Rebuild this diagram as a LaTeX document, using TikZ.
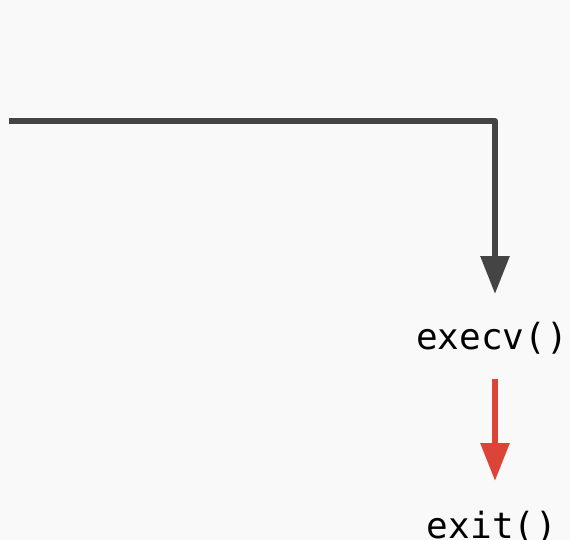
\documentclass[tikz,border=0pt]{standalone}
\usepackage{fontspec}
\setmonofont{DejaVu Sans Mono}
\usetikzlibrary{arrows.meta}
\definecolor{bgcol}{HTML}{F9F9F9}
\definecolor{flowgray}{HTML}{444444}
\definecolor{flowred}{HTML}{DB4437}
\begin{document}
\begin{tikzpicture}[x=1pt,y=-1pt,
  call/.style={inner sep=0pt,anchor=base,font=\ttfamily\fontsize{36}{36}\selectfont,text=black},
  flow/.style={line width=6pt,-{Triangle[width=28pt,length=38pt]}}]
  \fill[bgcol] (0,0) rectangle (570,540);
  \useasboundingbox (0,0) rectangle (570,540);
  % incoming path from the left
  \coordinate (start) at (9,121);
  \node[call] (execv) at (492,349) {execv()};
  \node[call] (exit) at (492,538) {exit()};
  \coordinate (execvin) at (495,294);
  \coordinate (execvout) at (495,379);
  \coordinate (exitin) at (495,481);
  \draw[flow,flowgray,line join=round] (start) -| (execvin);
  \draw[flow,flowred] (execvout) -- (exitin);
\end{tikzpicture}
\end{document}
